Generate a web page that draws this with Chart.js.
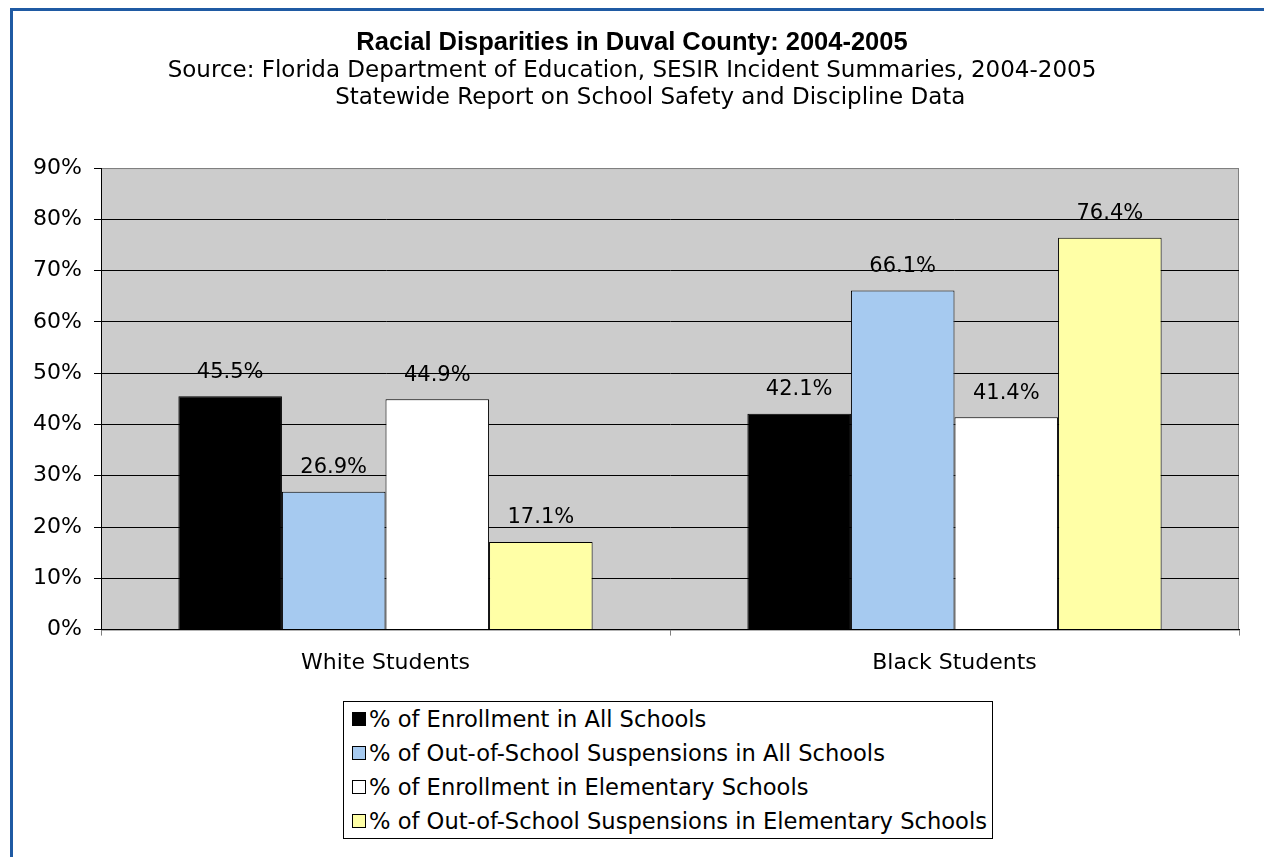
<!DOCTYPE html>
<html>
<head>
<meta charset="utf-8">
<title>Racial Disparities in Duval County: 2004-2005</title>
<script src="https://cdn.jsdelivr.net/npm/chart.js@4/dist/chart.umd.min.js"></script>
<style>
  html, body { margin: 0; padding: 0; background: #fff; width: 1264px; height: 857px; overflow: hidden; }
  .frame { position: absolute; left: 10px; top: 8px; width: 1300px; height: 900px; border-left: 3px solid #1f5aa3; border-top: 3px solid #1f5aa3; }
  #wrap { position: absolute; left: 0; top: 0; width: 1264px; height: 690px; }
  #legend { position: absolute; left: 343px; top: 701px; width: 640px; height: 136px; border: 1px solid #000; padding: 0 0 0 8px; font-family: "DejaVu Sans", Verdana, sans-serif; font-size: 22.6px; color: #000; }
  #legend .row { height: 34px; display: flex; align-items: center; white-space: nowrap; }
  #legend .mark { width: 12px; height: 12px; border: 1px solid #000; margin-right: 3px; flex: none; }
</style>
</head>
<body>
<div class="frame"></div>
<div id="wrap"><canvas id="chart" width="1264" height="690"></canvas></div>
<div id="legend"></div>
<script>
// data
const categories = ['White Students', 'Black Students'];
const enrollAll = [45.5, 42.1];
const suspAll = [26.9, 66.1];
const enrollElem = [44.9, 41.4];
const suspElem = [17.1, 76.4];
const seriesNames = [
  '% of Enrollment in All Schools',
  '% of Out-of-School Suspensions in All Schools',
  '% of Enrollment in Elementary Schools',
  '% of Out-of-School Suspensions in Elementary Schools'
];
const seriesColors = ['#000000', '#a6caf0', '#ffffff', '#ffffa6'];
const yTicks = [0, 10, 20, 30, 40, 50, 60, 70, 80, 90];

(function () {
  const FONT = '"DejaVu Sans", Verdana, sans-serif';

  // grey plot area with a thin grey frame
  const plotBg = {
    id: 'plotBg',
    beforeDraw: function (chart) {
      var a = chart.chartArea;
      var ctx = chart.ctx;
      ctx.save();
      ctx.fillStyle = '#cccccc';
      ctx.fillRect(a.left, a.top, a.right - a.left, a.bottom - a.top);
      ctx.strokeStyle = '#808080';
      ctx.lineWidth = 1;
      ctx.strokeRect(a.left + 0.5, a.top + 0.5, a.right - a.left - 1, a.bottom - a.top);
      ctx.restore();
    }
  };

  // value labels above the bars
  const barLabels = {
    id: 'barLabels',
    afterDatasetsDraw: function (chart) {
      var ctx = chart.ctx;
      ctx.save();
      ctx.font = '21px ' + FONT;
      ctx.fillStyle = '#000';
      ctx.textAlign = 'center';
      ctx.textBaseline = 'middle';
      chart.data.datasets.forEach(function (ds, i) {
        chart.getDatasetMeta(i).data.forEach(function (bar, j) {
          ctx.fillText(ds.data[j].toFixed(1) + '%', bar.x, bar.y - 24);
        });
      });
      ctx.restore();
    }
  };

  const allValues = [enrollAll, suspAll, enrollElem, suspElem];

  const chart = new Chart(document.getElementById('chart'), {
    type: 'bar',
    data: {
      labels: categories,
      datasets: allValues.map(function (vals, i) {
        return {
          label: seriesNames[i],
          data: vals,
          backgroundColor: seriesColors[i],
          borderColor: '#000',
          borderWidth: 1,
          barPercentage: 1,
          categoryPercentage: 0.728
        };
      })
    },
    options: {
      responsive: false,
      animation: false,
      layout: { padding: { left: 25, right: 25, top: 0, bottom: 0 } },
      plugins: {
        legend: { display: false },
        tooltip: { enabled: false },
        title: {
          display: true,
          text: 'Racial Disparities in Duval County: 2004-2005',
          color: '#000',
          font: { family: '"Liberation Sans", Arial, sans-serif', size: 25.5, weight: 'bold', lineHeight: 1.1 },
          padding: { top: 29, bottom: 0 }
        },
        subtitle: {
          display: true,
          text: [
            'Source: Florida Department of Education, SESIR Incident Summaries, 2004-2005',
            '     Statewide Report on School Safety and Discipline Data'
          ],
          color: '#000',
          font: { family: FONT, size: 23, lineHeight: 1.174 },
          padding: { top: 0, bottom: 57 }
        }
      },
      scales: {
        x: {
          grid: { display: true, drawOnChartArea: false, drawTicks: true, tickLength: 6, color: '#808080', offset: true },
          border: { display: true, color: '#000', width: 1 },
          ticks: { color: '#000', font: { family: FONT, size: 22 }, padding: 14, maxRotation: 0 }
        },
        y: {
          min: 0,
          max: 90,
          afterBuildTicks: function (scale) {
            scale.ticks = yTicks.map(function (v) { return { value: v }; });
          },
          afterFit: function (scale) { scale.width = 76; },
          grid: {
            color: function (c) { return c.tick && c.tick.value === 90 ? '#808080' : '#000'; },
            tickColor: '#000',
            tickLength: 7,
            lineWidth: 1
          },
          border: { display: true, color: '#000', width: 1 },
          ticks: {
            color: '#000',
            font: { family: FONT, size: 22 },
            padding: 12,
            callback: function (v) { return v + '%'; }
          }
        }
      }
    },
    plugins: [plotBg, barLabels]
  });

  // legend as a boxed list, one entry per row
  var legend = document.getElementById('legend');
  legend.innerHTML = chart.data.datasets.map(function (ds) {
    return '<div class="row"><span class="mark" style="background:' + ds.backgroundColor + '"></span><span>' + ds.label + '</span></div>';
  }).join('');
})();
</script>
</body>
</html>
